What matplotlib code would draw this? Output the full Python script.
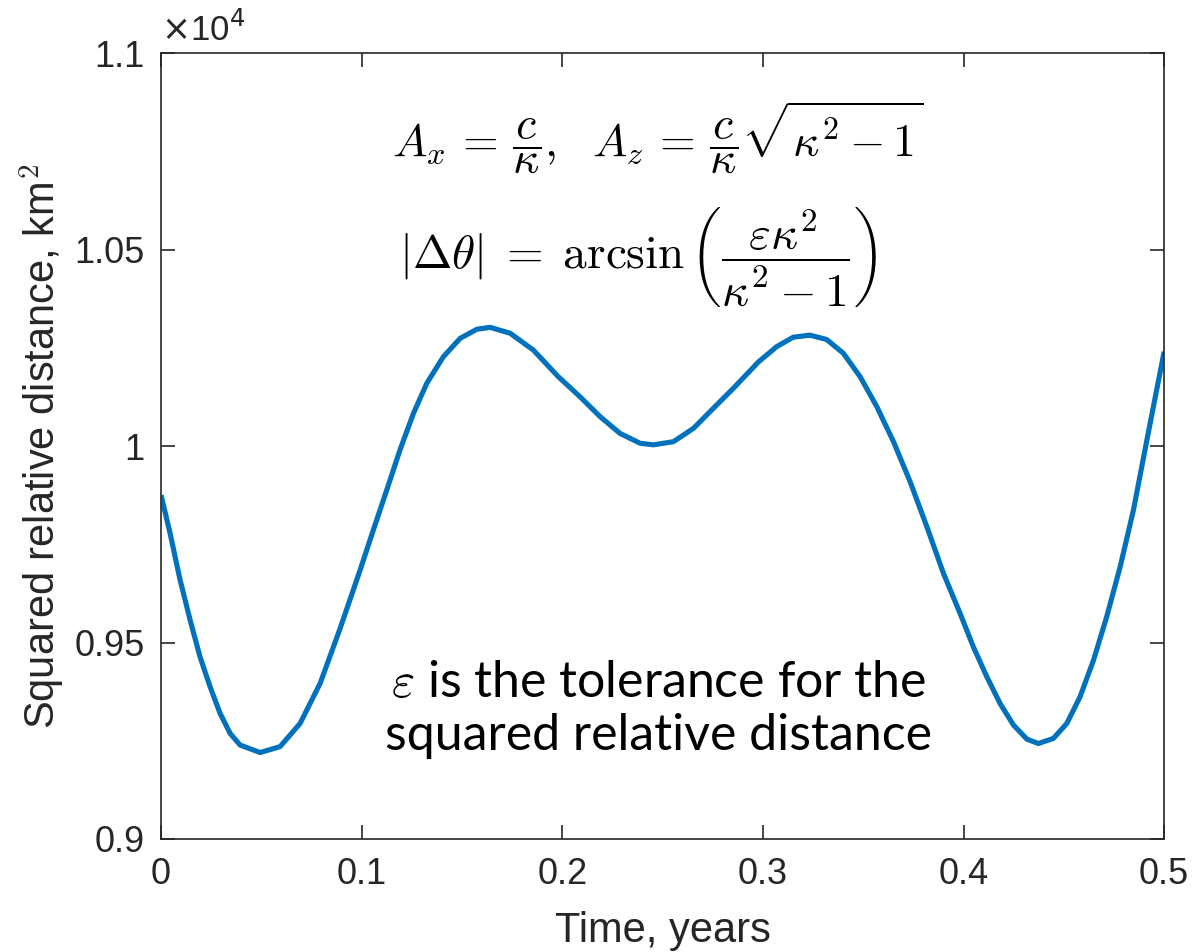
import matplotlib
matplotlib.use("Agg")
import matplotlib.pyplot as plt

plt.rcParams['font.family'] = ['Liberation Sans', 'DejaVu Sans']
plt.rcParams['mathtext.fontset'] = 'cm'

# time (years) and squared relative distance (km^2)
t_years = [0.0000, 0.0045, 0.0095, 0.0145, 0.0194, 0.0244, 0.0294, 0.0344, 0.0394,
           0.0494, 0.0593, 0.0693, 0.0793, 0.0892, 0.0992, 0.1058, 0.1125, 0.1191,
           0.1258, 0.1325, 0.1407, 0.1491, 0.1574, 0.1640, 0.1740, 0.1856, 0.1981,
           0.2089, 0.2188, 0.2288, 0.2388, 0.2454, 0.2554, 0.2654, 0.2753, 0.2853,
           0.2978, 0.3069, 0.3152, 0.3235, 0.3318, 0.3401, 0.3485, 0.3568, 0.3651,
           0.3734, 0.3817, 0.3900, 0.3983, 0.4049, 0.4116, 0.4182, 0.4249, 0.4316,
           0.4373, 0.4448, 0.4515, 0.4581, 0.4648, 0.4714, 0.4781, 0.4847, 0.4914,
           0.5000]
dist_sq = [9875, 9778, 9659, 9557, 9464, 9388, 9320, 9269, 9239,
           9220, 9235, 9294, 9396, 9535, 9684, 9786, 9888, 9990,
           10083, 10160, 10227, 10274, 10297, 10302, 10287, 10244, 10176,
           10125, 10075, 10032, 10007, 10003, 10011, 10045, 10096, 10147,
           10214, 10253, 10277, 10282, 10271, 10236, 10176, 10100, 10011,
           9909, 9795, 9676, 9574, 9489, 9413, 9345, 9290, 9254,
           9243, 9256, 9294, 9362, 9455, 9566, 9693, 9837, 10015,
           10240]

x_ticks = [0, 0.1, 0.2, 0.3, 0.4, 0.5]
x_tick_labels = ['0', '0.1', '0.2', '0.3', '0.4', '0.5']
y_ticks = [9000, 9500, 10000, 10500, 11000]
y_tick_labels = ['0.9', '0.95', '1', '1.05', '1.1']

AX_COLOR = '#262626'
LINE_COLOR = '#0072BD'

fig = plt.figure(figsize=(11.93, 9.52), dpi=100)
ax = fig.add_axes([0.135, 0.1187, 0.8408, 0.8256])

ax.plot(t_years, dist_sq, color=LINE_COLOR, lw=3.7,
        solid_capstyle='butt', solid_joinstyle='round')

ax.set_xlim(0, 0.5)
ax.set_ylim(9000, 11000)
ax.set_xticks(x_ticks)
ax.set_xticklabels(x_tick_labels)
ax.set_yticks(y_ticks)
ax.set_yticklabels(y_tick_labels)

ax.tick_params(direction='in', length=10, width=1.2, colors=AX_COLOR,
               labelsize=26, top=True, right=True)
ax.tick_params(axis='y', pad=12)
ax.tick_params(axis='x', pad=13)
for sp in ax.spines.values():
    sp.set_color(AX_COLOR)
    sp.set_linewidth(1.2)

ax.set_xlabel('Time, years', fontsize=30, color=AX_COLOR, labelpad=14)
ax.set_ylabel('Squared relative distance, km$^2$', fontsize=30, color=AX_COLOR)
ax.yaxis.set_label_coords(-0.094, 0.5)

# exponent label above the y axis
ax.text(0.0, 1.006, r'$\times$10$^4$', transform=ax.transAxes, fontsize=25,
        color=AX_COLOR, ha='left', va='bottom',
        math_fontfamily='dejavusans')

# amplitude relations
ax.text(0.495, 0.893,
        r'$A_x\,=\,\dfrac{c}{\kappa},\ \ A_z\,=\,\dfrac{c}{\kappa}\sqrt{\kappa^2 - 1}$',
        transform=ax.transAxes, fontsize=33, ha='center', va='center', color='black')
ax.text(0.476, 0.74,
        r'$|\Delta\theta|\;=\;\mathrm{arcsin}\,\left(\dfrac{\varepsilon\kappa^2}{\kappa^2 - 1}\right)$',
        transform=ax.transAxes, fontsize=34, ha='center', va='center', color='black')

ax.text(0.496, 0.165,
        '$\\varepsilon$ is the tolerance for the\nsquared relative distance',
        transform=ax.transAxes, fontsize=36, ha='center', va='center',
        color='black', family=['Lato', 'DejaVu Sans'], linespacing=1.2)

fig.savefig('out.png', dpi=100, facecolor='white')
